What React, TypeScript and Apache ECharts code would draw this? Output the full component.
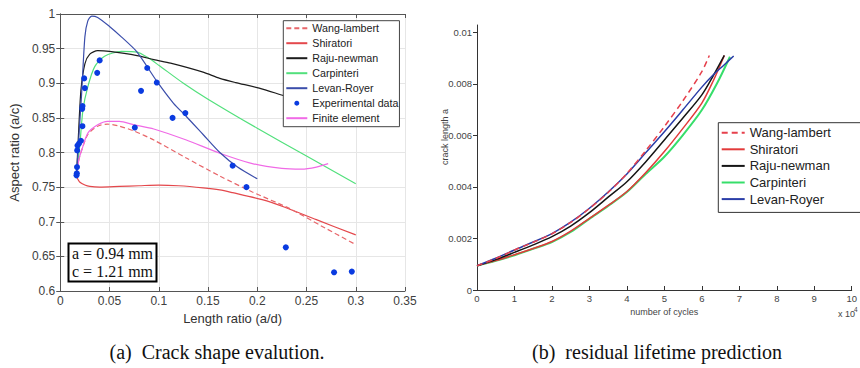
import React, { useEffect, useRef } from 'react';
import * as echarts from 'echarts';

// ---------- (a) Crack shape evolution : [length ratio a/d, aspect ratio a/c] ----------
const wangLambertA = [[0.0165,0.765],[0.019,0.79],[0.0217,0.803],[0.028,0.826],[0.038,0.838],[0.048,0.841],[0.06,0.838],[0.075,0.831],[0.095,0.818],[0.128,0.792],[0.162,0.766],[0.195,0.743],[0.233,0.719],[0.265,0.694],[0.3,0.667]];
const shiratoriA = [[0.0165,0.765],[0.02,0.757],[0.025,0.753],[0.03,0.751],[0.04,0.75],[0.06,0.751],[0.08,0.752],[0.1,0.753],[0.12,0.752],[0.145,0.749],[0.162,0.746],[0.175,0.742],[0.205,0.732],[0.228,0.721],[0.26,0.703],[0.3,0.681]];
const rajuNewmanA = [[0.0165,0.765],[0.0183,0.82],[0.021,0.89],[0.025,0.928],[0.03,0.942],[0.038,0.947],[0.05,0.946],[0.078,0.94],[0.095,0.934],[0.112,0.929],[0.145,0.916],[0.162,0.907],[0.178,0.901],[0.202,0.893],[0.227,0.882],[0.26,0.868],[0.3,0.852]];
const carpinteriA = [[0.0165,0.765],[0.02,0.813],[0.023,0.861],[0.028,0.895],[0.035,0.924],[0.045,0.939],[0.062,0.946],[0.078,0.945],[0.09,0.936],[0.1,0.926],[0.125,0.9],[0.15,0.877],[0.2,0.835],[0.25,0.795],[0.3,0.755]];
const levanRoyerA = [[0.0165,0.765],[0.018,0.803],[0.0217,0.885],[0.025,0.967],[0.028,0.99],[0.032,0.997],[0.038,0.995],[0.05,0.982],[0.062,0.967],[0.078,0.945],[0.098,0.903],[0.115,0.871],[0.128,0.852],[0.145,0.826],[0.162,0.8],[0.18,0.779],[0.2,0.762]];
const experimentalA = [[0.0165,0.767],[0.0168,0.770],[0.017,0.779],[0.0172,0.803],[0.0175,0.810],[0.019,0.813],[0.021,0.817],[0.0225,0.838],[0.0223,0.863],[0.0226,0.867],[0.0243,0.907],[0.025,0.893],[0.0375,0.915],[0.040,0.933],[0.0757,0.836],[0.082,0.889],[0.0883,0.922],[0.098,0.901],[0.114,0.850],[0.127,0.857],[0.175,0.781],[0.189,0.750],[0.229,0.663],[0.278,0.627],[0.296,0.628]];
const finiteElementA = [[0.0165,0.765],[0.019,0.79],[0.0217,0.803],[0.028,0.828],[0.038,0.84],[0.048,0.845],[0.06,0.845],[0.075,0.84],[0.095,0.834],[0.128,0.818],[0.162,0.799],[0.195,0.784],[0.225,0.777],[0.245,0.776],[0.26,0.779],[0.272,0.784]];

// ---------- (b) Residual lifetime : [number of cycles, crack length a] ----------
const wangLambertB = [[0,0.00094],[5000,0.00122],[10000,0.00155],[15000,0.00185],[20000,0.00218],[25000,0.00262],[30000,0.00316],[35000,0.00378],[40000,0.00452],[45000,0.0054],[50000,0.00634],[55000,0.00735],[60000,0.00847],[62000,0.0091]];
const shiratoriB = [[0,0.00094],[5000,0.00114],[10000,0.00137],[15000,0.00161],[20000,0.00188],[25000,0.00228],[30000,0.00278],[35000,0.00328],[40000,0.00382],[45000,0.00455],[50000,0.00537],[55000,0.00628],[60000,0.00725],[63000,0.0081],[66000,0.0091]];
const rajuNewmanB = [[0,0.00094],[5000,0.00118],[10000,0.00146],[15000,0.00175],[20000,0.00207],[25000,0.00248],[30000,0.003],[35000,0.0036],[40000,0.0042],[45000,0.00497],[50000,0.00582],[55000,0.00668],[60000,0.00757],[63000,0.0083],[66000,0.0091]];
const carpinteriB = [[0,0.00094],[5000,0.00113],[10000,0.00135],[15000,0.0016],[20000,0.00186],[25000,0.00225],[30000,0.00276],[35000,0.00326],[40000,0.0038],[45000,0.0045],[50000,0.00517],[55000,0.00602],[60000,0.00698],[64000,0.008],[67500,0.00905]];
const levanRoyerB = [[0,0.00094],[5000,0.00123],[10000,0.00155],[15000,0.00186],[20000,0.00219],[25000,0.00263],[30000,0.00317],[35000,0.0038],[40000,0.0045],[45000,0.00532],[50000,0.00614],[55000,0.007],[60000,0.00787],[63000,0.00834],[66000,0.00874],[68500,0.00908]];

const legendA = ['Wang-lambert', 'Shiratori', 'Raju-newman', 'Carpinteri', 'Levan-Royer', 'Experimental data', 'Finite element'];
const legendB = ['Wang-lambert', 'Shiratori', 'Raju-newman', 'Carpinteri', 'Levan-Royer'];
const scatterNames = ['Experimental data'];
const yTicksB = [0, 0.002, 0.004, 0.006, 0.008, 0.01];

const SANS = 'Liberation Sans, Arial, sans-serif';
const SERIF = 'Liberation Serif, Times New Roman, serif';

// legend entries: hide the centre marker that ECharts adds to line icons
const legendItems = (names: string[]) =>
  names.map((n) => (scatterNames.includes(n) ? { name: n } : { name: n, itemStyle: { opacity: 0, borderWidth: 0 } }));

function lineA(name: string, data: number[][], color: string, dashed = false, width = 1.2) {
  return {
    name, type: 'line', data, symbol: 'none', showSymbol: false, smooth: 0.25,
    lineStyle: { color, width, type: dashed ? [5, 3] : 'solid' },
    itemStyle: { color },
    z: 2,
  };
}

function optionA(): any {
  const fmt = (v: number) => String(Math.round(v * 100) / 100);
  const axisLine = { show: true, lineStyle: { color: '#555', width: 1 } };
  const tick = { show: true, inside: true, length: 4, lineStyle: { color: '#555' } };
  return {
    animation: false,
    textStyle: { fontFamily: SANS },
    grid: { left: 55, top: 14, width: 350, height: 277 },
    xAxis: [
      {
        type: 'value', min: 0, max: 0.35, interval: 0.05,
        name: 'Length ratio (a/d)', nameLocation: 'middle', nameGap: 21,
        nameTextStyle: { fontSize: 13, color: '#333', fontFamily: SANS },
        axisLine, axisTick: tick,
        axisLabel: { fontSize: 12, color: '#404040', margin: 4, formatter: fmt, fontFamily: SANS },
        splitLine: { show: true, lineStyle: { color: '#e6e6e6' } },
      },
      {
        type: 'value', position: 'top', min: 0, max: 0.35, interval: 0.05,
        axisLine, axisTick: tick, axisLabel: { show: false }, splitLine: { show: false },
      },
    ],
    yAxis: [
      {
        type: 'value', min: 0.6, max: 1, interval: 0.05,
        name: 'Aspect ratio (a/c)', nameLocation: 'middle', nameGap: 33,
        nameTextStyle: { fontSize: 13, color: '#333', fontFamily: SANS },
        axisLine, axisTick: tick,
        axisLabel: { fontSize: 12, color: '#404040', margin: 5, formatter: fmt, fontFamily: SANS },
        splitLine: { show: true, lineStyle: { color: '#e6e6e6' } },
      },
      {
        type: 'value', position: 'right', min: 0.6, max: 1, interval: 0.05,
        axisLine, axisTick: tick, axisLabel: { show: false }, splitLine: { show: false },
      },
    ],
    legend: {
      data: legendItems(legendA), orient: 'vertical', left: 283.3, top: 20.7,
      padding: [0, 1, 1, 2], itemGap: 0, itemWidth: 21, itemHeight: 5,
      backgroundColor: '#fff', borderColor: '#444', borderWidth: 1, borderRadius: 0,
      textStyle: { fontSize: 10.7, lineHeight: 15, color: '#222', fontFamily: SANS },
      z: 10,
    },
    series: [
      lineA('Carpinteri', carpinteriA, '#52e07c'),
      lineA('Raju-newman', rajuNewmanA, '#1c1c1c'),
      lineA('Shiratori', shiratoriA, '#e4484c'),
      lineA('Wang-lambert', wangLambertA, '#e8666a', true),
      lineA('Finite element', finiteElementA, '#f06ae6'),
      lineA('Levan-Royer', levanRoyerA, '#3b4eab'),
      {
        name: 'Experimental data', type: 'scatter', data: experimentalA,
        symbol: 'circle', symbolSize: 6, itemStyle: { color: '#0a3be0', opacity: 1 }, z: 3,
      },
    ],
    graphic: [
      {
        type: 'rect', z: 20, shape: { x: 68.5, y: 243.5, width: 88, height: 38 },
        style: { fill: '#fff', stroke: '#000', lineWidth: 2 },
      },
      {
        type: 'text', z: 21, x: 72, y: 253,
        style: { text: 'a = 0.94 mm', fontSize: 16, fontFamily: SERIF, fill: '#111', verticalAlign: 'middle', align: 'left' },
      },
      {
        type: 'text', z: 21, x: 72, y: 271.5,
        style: { text: 'c = 1.21 mm', fontSize: 16, fontFamily: SERIF, fill: '#111', verticalAlign: 'middle', align: 'left' },
      },
      {
        type: 'text', z: 21, x: 217, y: 352,
        style: { text: '(a)  Crack shape evalution.', fontSize: 20, fontFamily: SERIF, fill: '#111', verticalAlign: 'middle', align: 'center' },
      },
    ],
  };
}

function lineB(name: string, data: number[][], color: string, dashed = false, width = 1.5) {
  return {
    name, type: 'line', data, symbol: 'none', showSymbol: false, smooth: 0.3,
    lineStyle: { color, width, type: dashed ? [6, 4] : 'solid' },
    itemStyle: { color },
  };
}

function optionB(): any {
  return {
    animation: false,
    textStyle: { fontFamily: SANS },
    grid: { left: 47, top: 25, width: 380.7, height: 265 },
    xAxis: {
      type: 'value', min: 0, max: 100000, interval: 10000,
      name: 'number of cycles', nameLocation: 'middle', nameGap: 14.5,
      nameTextStyle: { fontSize: 9, color: '#444', fontFamily: SANS },
      axisLine: { show: true, lineStyle: { color: '#333' } },
      axisTick: { show: true, inside: true, length: 4, lineStyle: { color: '#333' } },
      axisLabel: { fontSize: 9.5, color: '#444', margin: 3, formatter: (v: number) => String(Math.round(v / 10000)), fontFamily: SANS },
      splitLine: { show: false },
    },
    yAxis: {
      type: 'value', min: 0, max: 0.01028,
      axisLine: { show: true, lineStyle: { color: '#333' } },
      axisTick: { show: true, inside: false, length: 4, customValues: yTicksB, lineStyle: { color: '#333' } },
      axisLabel: { fontSize: 9.5, color: '#444', margin: 5, customValues: yTicksB, formatter: (v: number) => String(+v.toFixed(3)), fontFamily: SANS },
      splitLine: { show: false },
    },
    legend: {
      data: legendItems(legendB), orient: 'vertical', left: 288.3, top: 122.7,
      padding: [1.7, 30, 5, 2.4], itemGap: 0, itemWidth: 23, itemHeight: 4,
      backgroundColor: '#fff', borderColor: '#333', borderWidth: 1, borderRadius: 0,
      textStyle: { fontSize: 13, lineHeight: 16.6, color: '#222', fontFamily: SANS },
    },
    series: [
      lineB('Carpinteri', carpinteriB, '#36de6a', false, 2),
      lineB('Shiratori', shiratoriB, '#e23a3a'),
      lineB('Raju-newman', rajuNewmanB, '#151515'),
      lineB('Levan-Royer', levanRoyerB, '#2a3da8'),
      lineB('Wang-lambert', wangLambertB, '#e6404c', true),
    ],
    graphic: [
      {
        type: 'text', x: 15, y: 137, rotation: Math.PI / 2,
        style: { text: 'crack length a', fontSize: 9, fontFamily: SANS, fill: '#444', align: 'center', verticalAlign: 'middle' },
      },
      {
        type: 'text', x: 408, y: 313.5,
        style: { text: 'x 10', fontSize: 9, fontFamily: SANS, fill: '#444', align: 'left', verticalAlign: 'middle' },
      },
      {
        type: 'text', x: 424, y: 309,
        style: { text: '4', fontSize: 6.5, fontFamily: SANS, fill: '#444', align: 'left', verticalAlign: 'middle' },
      },
      {
        type: 'text', x: 227, y: 352,
        style: { text: '(b)  residual lifetime prediction', fontSize: 20, fontFamily: SERIF, fill: '#111', align: 'center', verticalAlign: 'middle' },
      },
    ],
  };
}

export default function App() {
  const refA = useRef<HTMLDivElement>(null);
  const refB = useRef<HTMLDivElement>(null);
  useEffect(() => {
    document.body.style.margin = '0';
    const a = echarts.init(refA.current!, undefined, { renderer: 'svg' });
    const b = echarts.init(refB.current!, undefined, { renderer: 'svg' });
    a.setOption(optionA());
    b.setOption(optionB());
    return () => {
      a.dispose();
      b.dispose();
    };
  }, []);
  return (
    <div style={{ position: 'absolute', left: 0, top: 0, width: 860, height: 368, background: '#fff' }}>
      <div ref={refA} style={{ position: 'absolute', left: 0, top: 0, width: 430, height: 368 }} />
      <div ref={refB} style={{ position: 'absolute', left: 430, top: 0, width: 430, height: 368 }} />
    </div>
  );
}
